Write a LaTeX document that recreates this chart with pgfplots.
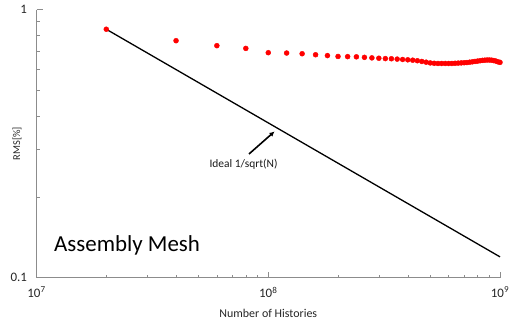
\documentclass[border=0pt]{standalone}
\usepackage{pgfplots}
\pgfplotsset{compat=1.18}
\usepackage{pgfplotstable}
\usepackage{fontspec}
\setmainfont{Carlito}
\usetikzlibrary{arrows.meta}

% RMS error versus number of histories
\pgfplotstableread{
N      rms
2e7    0.844
4e7    0.765
6e7    0.733
8e7    0.716
1.0e8  0.690
1.2e8  0.688
1.4e8  0.684
1.6e8  0.678
1.8e8  0.673
2.0e8  0.668
2.2e8  0.667
2.4e8  0.666
2.6e8  0.663
2.8e8  0.660
3.0e8  0.658
3.2e8  0.656
3.4e8  0.655
3.6e8  0.653
3.8e8  0.651
4.0e8  0.649
4.2e8  0.647
4.4e8  0.644
4.6e8  0.640
4.8e8  0.636
5.0e8  0.632
5.2e8  0.630
5.4e8  0.629
5.6e8  0.629
5.8e8  0.629
6.0e8  0.629
6.2e8  0.629
6.4e8  0.630
6.6e8  0.631
6.8e8  0.632
7.0e8  0.633
7.2e8  0.634
7.4e8  0.636
7.6e8  0.638
7.8e8  0.640
8.0e8  0.642
8.2e8  0.644
8.4e8  0.646
8.6e8  0.647
8.8e8  0.648
9.0e8  0.648
9.2e8  0.647
9.4e8  0.645
9.6e8  0.642
9.8e8  0.638
1.0e9  0.635
}\rmsdata

\begin{document}
\begin{tikzpicture}
\useasboundingbox (0,0) rectangle (511bp,324bp);
\begin{axis}[
  at={(36.5bp,46.5bp)}, anchor=south west,
  scale only axis, width=463.5bp, height=268bp,
  xmode=log, ymode=log,
  xmin=1e7, xmax=1e9, ymin=0.1, ymax=1,
  clip=false,
  axis x line*=bottom, axis y line*=left,
  axis line style={draw=black!45, line width=0.8bp},
  tick align=inside,
  major tick length=6bp, minor tick length=3bp,
  every tick/.style={draw=black!45, line width=0.6bp},
  xtick={1e7,1e8,1e9},
  xticklabels={10\textsuperscript{7},10\textsuperscript{8},10\textsuperscript{9}},
  minor xtick={2e7,3e7,4e7,5e7,6e7,7e7,8e7,9e7,2e8,3e8,4e8,5e8,6e8,7e8,8e8,9e8},
  ytick={0.1,1}, yticklabels={0.1,1},
  minor ytick={0.2,0.3,0.4,0.5,0.6,0.7,0.8,0.9},
  /pgf/number format/assume math mode=true,
  tick label style={font=\fontsize{13}{14}\selectfont, text=black!85},
  xticklabel style={yshift=-6bp},
  yticklabel style={xshift=-6bp},
  xlabel={Number of Histories},
  ylabel={RMS[\%]},
  xlabel style={at={(axis description cs:0.5,-0.1325)}, anchor=center,
    font=\fontsize{12}{13}\selectfont, text=black!85},
  ylabel style={at={(axis description cs:-0.042,0.5)}, anchor=center, rotate=0,
    font=\fontsize{10.5}{11}\selectfont, text=black!85},
]
  % ideal 1/sqrt(N) scaling from the first point
  \addplot[black, line width=1.3bp] coordinates {(2e7,0.844) (1e9,0.1194)};
  % computed RMS values
  \addplot[color=red, only marks, mark=*, mark size=2.5bp,
    mark options={draw=none, fill=red}] table[x=N, y=rms] {\rmsdata};
\end{axis}
\draw[-{Latex[length=5bp,width=5bp]}, line width=1.6bp, black]
  (249bp,170bp) -- (274.5bp,192.5bp);
\node[font=\fontsize{11.5}{12}\selectfont, text=black!90] at (243.5bp,160bp) {Ideal 1/sqrt(N)};
\node[anchor=base west, inner sep=0pt, font=\fontsize{23}{24}\selectfont]
  at (54bp,72.3bp) {Assembly Mesh};
\end{tikzpicture}
\end{document}
